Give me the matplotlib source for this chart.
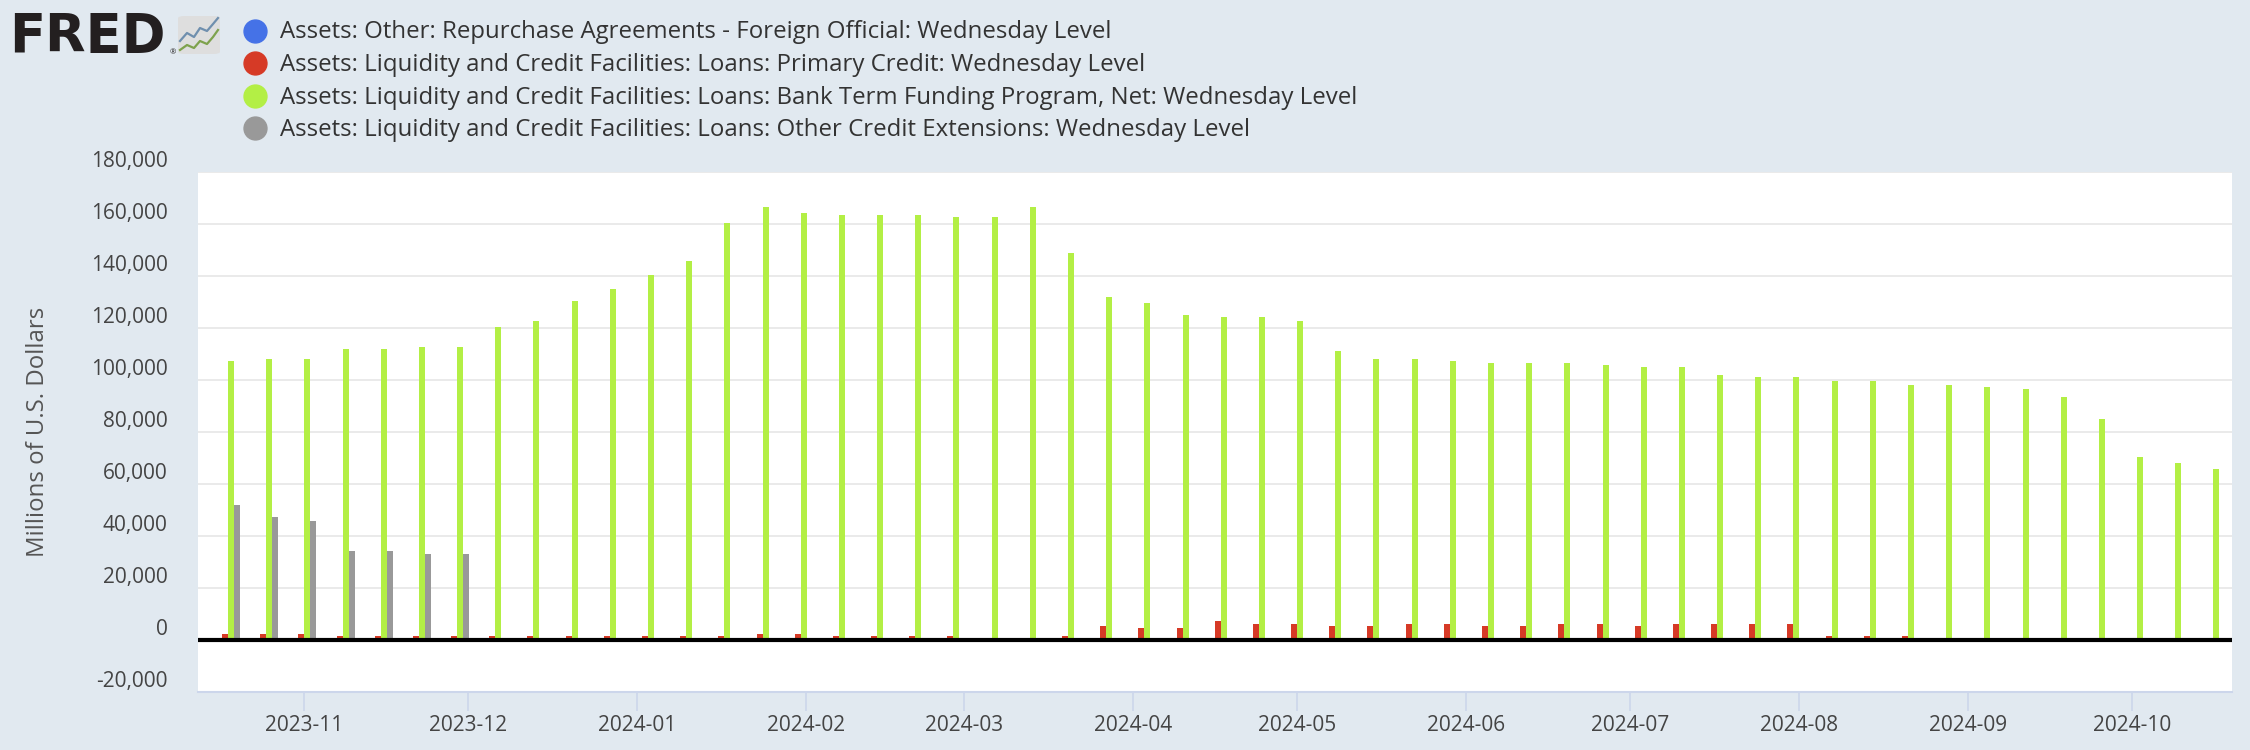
import matplotlib
matplotlib.use('Agg')
import matplotlib.pyplot as plt
import matplotlib.dates as mdates
from matplotlib.lines import Line2D
from matplotlib.patches import FancyBboxPatch
import pandas as pd

plt.rcParams['font.family'] = ['Open Sans', 'DejaVu Sans']

# weekly (Wednesday) observations
dates = pd.date_range('2023-10-18', periods=53, freq='7D')

series_names = [
    'Assets: Other: Repurchase Agreements - Foreign Official: Wednesday Level',
    'Assets: Liquidity and Credit Facilities: Loans: Primary Credit: Wednesday Level',
    'Assets: Liquidity and Credit Facilities: Loans: Bank Term Funding Program, Net: Wednesday Level',
    'Assets: Liquidity and Credit Facilities: Loans: Other Credit Extensions: Wednesday Level',
]
colors = ['#4572e7', '#d63a26', '#b3ef45', '#999999']

# millions of US dollars
repo_foreign = [0] * 53
primary_credit = [2200, 2200, 2200, 1400, 1400, 1400, 1400, 1400, 1400, 1400,
                  1400, 1400, 1400, 1400, 2200, 2200, 1400, 1400, 1400, 1400,
                  0, 0, 1400, 5200, 4450, 4450, 7500, 6000, 6000, 5200,
                  5200, 6000, 6000, 5200, 5200, 6000, 6000, 5200, 6000, 6000,
                  6000, 6000, 1400, 1400, 1400, 0, 0, 0, 0, 0,
                  0, 0, 0]
btfp = [107400, 108200, 108200, 112000, 112000, 112700, 112700, 120400, 122700, 130400,
        135000, 140400, 145700, 160300, 166400, 164100, 163400, 163400, 163400, 162600,
        162600, 166400, 148700, 131900, 129600, 125000, 124200, 124200, 122700, 111200,
        108200, 108200, 107400, 106500, 106500, 106500, 105800, 105000, 105000, 102000,
        101200, 101200, 99700, 99700, 98200, 98200, 97300, 96700, 93500, 85100,
        70500, 68100, 65900]
other_credit = [52100, 47400, 45900, 34400, 34400, 32900, 32900] + [0] * 46

series_values = [repo_foreign, primary_credit, btfp, other_credit]

month_ticks = pd.date_range('2023-11-01', '2024-10-01', freq='MS')
y_ticks = list(range(-20000, 180001, 20000))

W, H = 2250, 750
fig = plt.figure(figsize=(W / 100, H / 100), dpi=100, facecolor='#e1e9f0')
ax = fig.add_axes([198 / W, 1 - 692 / H, (2232 - 198) / W, (692 - 172) / H])
ax.set_facecolor('white')

x = mdates.date2num(dates)
bw = 1.1  # bar width in days
offsets = [-1.5, -0.5, 0.5, 1.5]
for vals, col, off in zip(series_values, colors, offsets):
    ax.bar(x + off * bw, vals, width=bw, color=col, linewidth=0, zorder=2)

ax.axhline(0, color='black', lw=3, zorder=3)

ax.set_xlim(x[0] - 5.5, x[-1] + 3.4)
ax.set_ylim(-20000, 180000)
ax.set_yticks(y_ticks)
ax.set_yticklabels([f'{v:,}' for v in y_ticks])
for lbl in ax.get_yticklabels():
    lbl.set_verticalalignment('bottom')
ax.set_xticks(mdates.date2num(month_ticks))
ax.xaxis.set_major_formatter(mdates.DateFormatter('%Y-%m'))

ax.yaxis.grid(True, color='#e6e6e6', lw=1.2)
ax.set_axisbelow(True)
for s in ['top', 'right', 'left']:
    ax.spines[s].set_visible(False)
ax.spines['bottom'].set_color('#ccd6eb')
ax.spines['bottom'].set_linewidth(1.5)

ax.tick_params(axis='x', length=13.5, width=1.2, color='#ccd6eb', pad=3,
               labelsize=15, labelcolor='#444444')
ax.tick_params(axis='y', length=0, pad=22, labelsize=15, labelcolor='#444444')

ax.set_ylabel('Millions of U.S. Dollars', fontsize=17.3, color='#555555', va='center')
ax.yaxis.set_label_coords((38 - 198) / (2232 - 198), 0.5)

# legend
for i, (name, col) in enumerate(zip(series_names, colors)):
    yc = 1 - (30.5 + 32.5 * i) / H
    fig.add_artist(Line2D([254.5 / W], [yc], marker='o', markersize=16.5,
                          color=col, linestyle='none', transform=fig.transFigure))
    fig.text(280 / W, yc - 2 / H, name, fontsize=17.3, color='#333333',
             va='center', ha='left')

# FRED logo
fig.text(9 / W, 1 - 37 / H, 'FRED', fontsize=38, fontweight='bold',
         family='DejaVu Sans', color='#231f20', va='center', ha='left')
fig.text(173 / W, 1 - 53 / H, '\u00ae', fontsize=5.5, color='#231f20',
         va='center', ha='center')
fig.add_artist(FancyBboxPatch((178 / W, 1 - 54 / H), 42 / W, 38 / H,
                              boxstyle='round,pad=0,rounding_size=0.003',
                              transform=fig.transFigure, facecolor='#dedede',
                              edgecolor='none'))
icon_x = [180, 187, 194, 200, 207, 213, 218]
icon_blue = [41, 33, 37, 28, 31, 24, 18]
icon_green = [50, 45, 48, 41, 44, 37, 30]
fig.add_artist(Line2D([v / W for v in icon_x], [1 - v / H for v in icon_blue],
                      color='#6f8fae', lw=1.6, transform=fig.transFigure))
fig.add_artist(Line2D([v / W for v in icon_x], [1 - v / H for v in icon_green],
                      color='#7ea24d', lw=1.6, transform=fig.transFigure))

fig.savefig('out.png', dpi=100, facecolor=fig.get_facecolor())
